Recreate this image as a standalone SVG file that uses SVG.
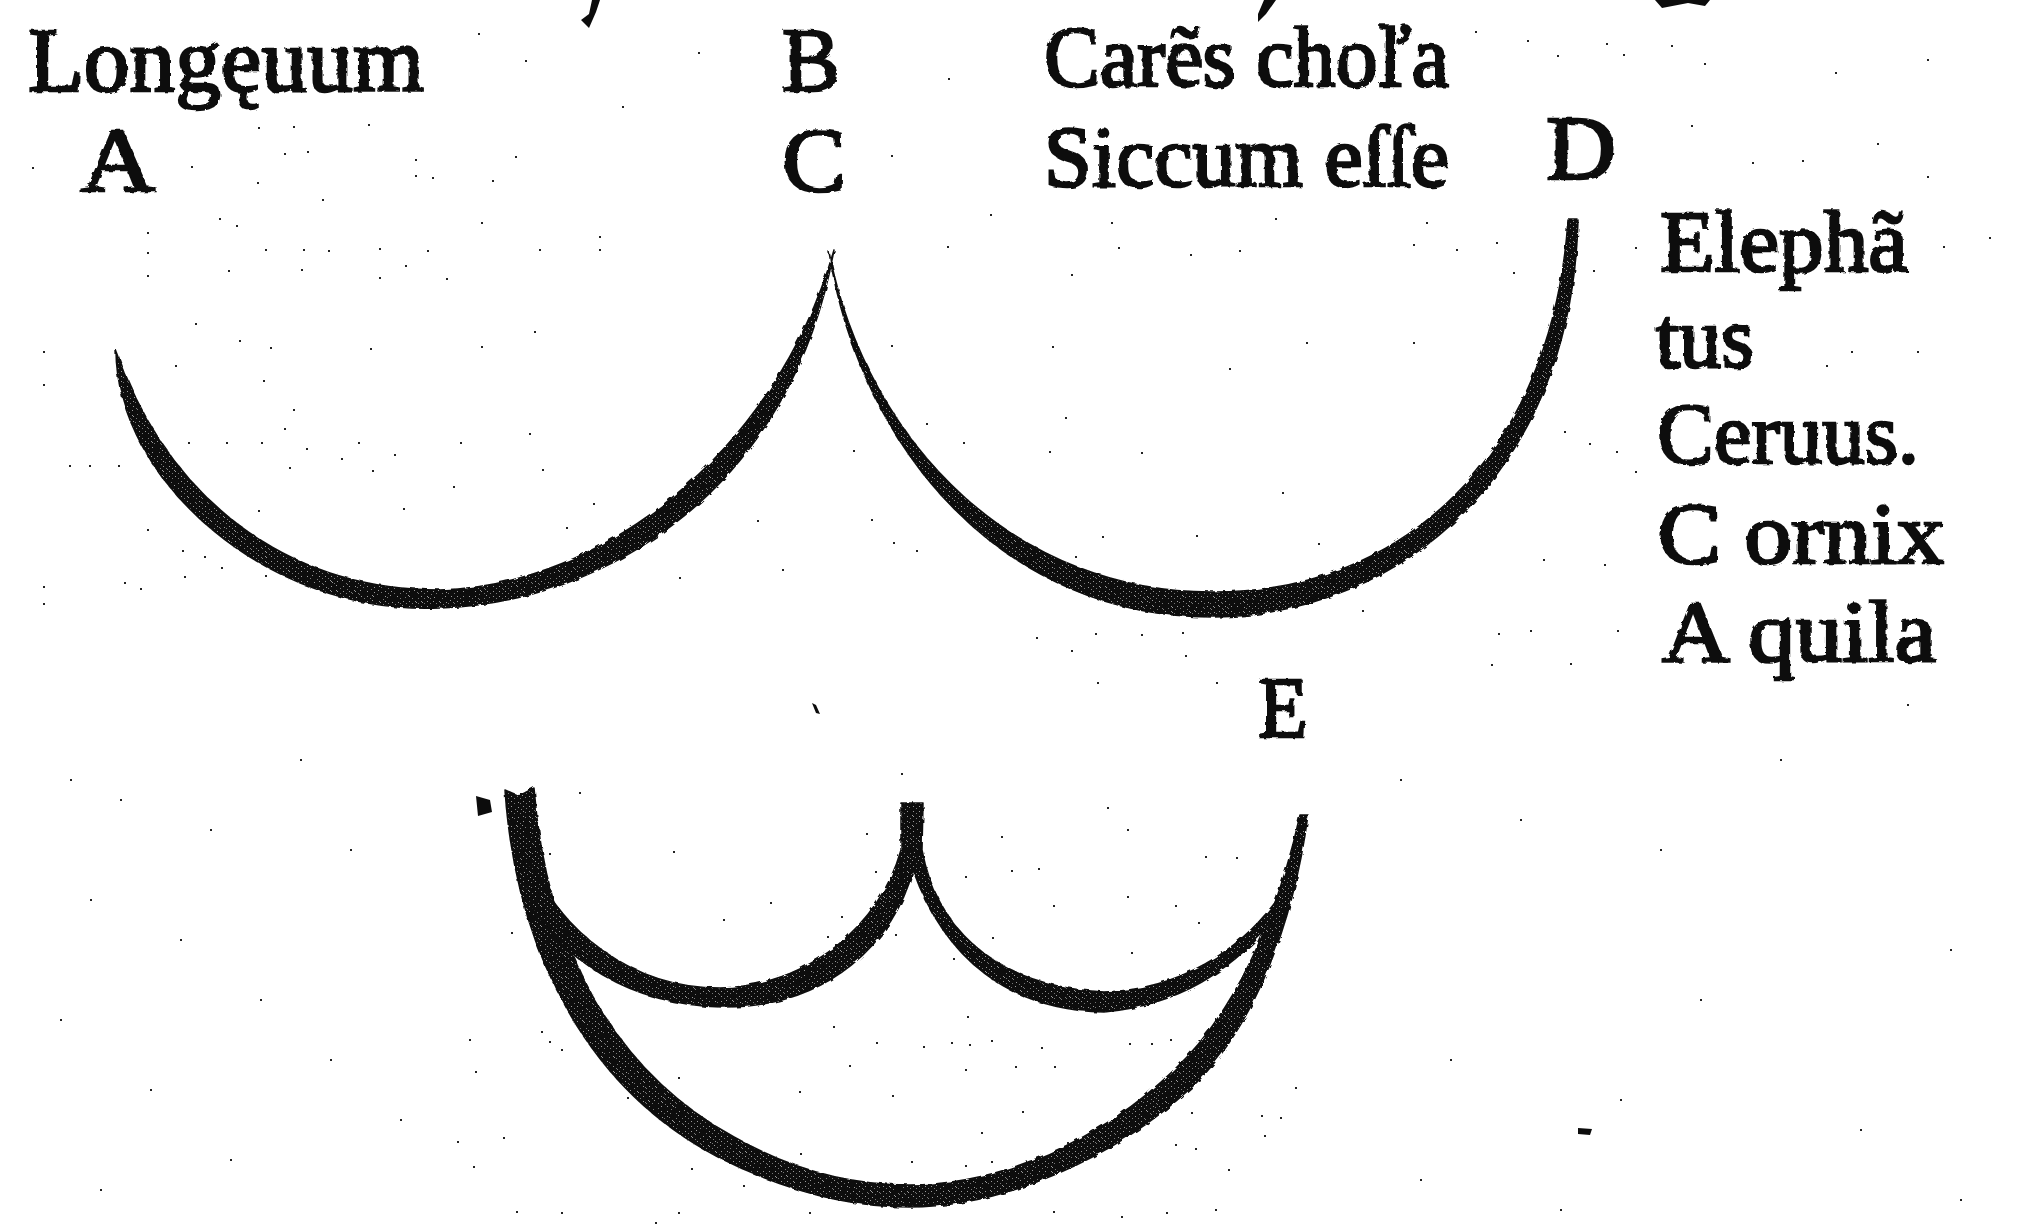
<svg xmlns="http://www.w3.org/2000/svg" width="2027" height="1226" viewBox="0 0 2027 1226">
<style>
text{font-family:"Liberation Serif","Times New Roman",serif;font-size:86px;fill:#0c0c0c;stroke:#0c0c0c;stroke-width:2.6px}
.big{font-size:92px}
.curve{fill:url(#grain);stroke:#0c0c0c;stroke-width:1.5;stroke-linejoin:round}
.specks{fill:none;stroke:#222;stroke-width:2;stroke-linecap:butt}
</style>
<defs>
<pattern id="grain" width="6" height="5" patternUnits="userSpaceOnUse">
<rect width="6" height="5" fill="#0c0c0c"/>
<rect x="1" y="1" width="1" height="1" fill="#9a9a9a"/>
<rect x="4" y="3" width="1" height="1" fill="#777"/>
</pattern>
<filter id="rough" x="-5%" y="-5%" width="110%" height="110%">
<feTurbulence type="fractalNoise" baseFrequency="0.14" numOctaves="2" seed="4" result="n"/>
<feDisplacementMap in="SourceGraphic" in2="n" scale="4"/>
</filter>
</defs>
<rect width="2027" height="1226" fill="#fff"/>
<g id="upper-figure" filter="url(#rough)">
<path id="arc-a-c" class="curve" d="M116,350 C116,480 268,616 440,608 C610,602 792,486 834,250 C775,455 600,586 440,590 C288,590 168,500 116,350Z"/>
<path id="arc-c-d" class="curve" d="M829,252 C860,450 1005,619 1215,617 C1402,614 1572,472 1578,220 L1568,220 C1552,458 1400,592 1215,592 C1020,594 868,448 829,252Z"/>
</g>
<g id="lower-figure" filter="url(#rough)">
<path id="outer-arc" class="curve" d="M505,790 L519,796 L534,788 C546,945 612,1070 734,1137 C785,1166 842,1185 909,1185 C1000,1185 1102,1140 1174,1070 C1230,1018 1276,925 1300,815 L1308,815 C1292,935 1248,1034 1192,1087 C1115,1158 1005,1207 909,1207 C840,1207 775,1186 718,1157 C590,1090 516,955 505,790Z"/>
<path id="inner-arcs" class="curve" d="M901,803 L923,803 L922,850 C935,920 985,985 1104,992 C1180,990 1240,950 1277,900 L1270,925 C1230,970 1180,1005 1104,1012 C1010,1010 945,960 913,870 C895,940 830,1008 722,1007 C630,1005 560,960 525,895 L530,860 C560,930 630,988 720,988 C810,985 880,925 901,850Z"/>
</g>
<g id="labels" filter="url(#rough)">
<text class="big" x="28" y="91" textLength="396" lengthAdjust="spacingAndGlyphs">Longęuum</text>
<text class="big" x="80" y="191" textLength="76" lengthAdjust="spacingAndGlyphs">A</text>
<text class="big" x="782" y="91" textLength="58" lengthAdjust="spacingAndGlyphs">B</text>
<text class="big" x="782" y="191" textLength="64" lengthAdjust="spacingAndGlyphs">C</text>
<text x="1044" y="86" textLength="405" lengthAdjust="spacingAndGlyphs">Carẽs choľa</text>
<text x="1044" y="186" textLength="405" lengthAdjust="spacingAndGlyphs">Siccum eſſe</text>
<text class="big" x="1546" y="179" textLength="70" lengthAdjust="spacingAndGlyphs">D</text>
<text x="1660" y="271" textLength="248" lengthAdjust="spacingAndGlyphs">Elephã</text>
<text x="1656" y="367" textLength="98" lengthAdjust="spacingAndGlyphs">tus</text>
<text x="1657" y="463" textLength="262" lengthAdjust="spacingAndGlyphs">Ceruus.</text>
<text x="1658" y="563" textLength="286" lengthAdjust="spacingAndGlyphs">C ornix</text>
<text x="1662" y="661" textLength="274" lengthAdjust="spacingAndGlyphs">A quila</text>
<text x="1258" y="737" textLength="50" lengthAdjust="spacingAndGlyphs">E</text>
</g>
<g id="scan-marks">
<path fill="#0c0c0c" d="M592,0 L600,0 L596,12 L589,28 L581,20 L589,14Z M1264,0 L1276,0 L1266,14 L1258,22 L1258,14Z M1655,0 L1710,0 L1705,6 L1688,3 L1662,8Z M476,796 L490,800 L492,812 L478,816Z M1578,1128 L1592,1129 L1590,1135 L1578,1134Z M812,703 L816,705 L820,714 L816,713Z"/>
<path class="specks" d="M478 34h2M525 61h2M698 53h2M948 79h2M622 107h2M368 125h2M258 128h2M293 127h2M307 152h2M284 154h2M415 160h2M515 157h2M415 176h2M432 178h2M492 181h2M257 183h2M191 167h2M32 168h2M322 200h2M219 219h2M236 226h2M481 223h2M147 233h2M147 253h2M147 276h2M265 250h2M303 250h2M328 251h2M379 249h2M427 251h2M539 250h2M599 237h2M599 250h2M228 271h2M301 270h2M405 266h2M379 278h2M446 279h2M195 324h2M534 332h2M239 341h2M270 348h2M370 349h2M481 347h2M175 366h2M263 381h2M293 410h2M284 429h2M529 434h2M460 443h2M226 443h2M188 443h2M261 443h2M306 449h2M358 443h2M394 455h2M341 459h2M289 468h2M372 471h2M542 470h2M453 487h2M593 504h2M403 509h2M258 511h2M566 528h2M757 521h2M871 520h2M853 451h2M891 346h2M947 247h2M990 215h2M891 156h2M963 443h2M926 424h2M893 543h2M916 551h2M782 570h2M679 578h2M147 530h2M182 551h2M204 557h2M221 568h2M184 577h2M265 576h2M43 587h2M124 583h2M140 589h2M43 604h2M43 352h2M43 385h2M89 466h2M69 466h2M118 466h2"/>
<path class="specks" d="M1475 32h2M1527 41h2M1606 44h2M1671 46h2M1557 56h2M1623 55h2M1704 64h2M1927 60h2M1835 73h2M1691 126h2M1877 144h2M1802 161h2M1927 177h2M1752 163h2M1111 223h2M1275 219h2M1426 223h2M1118 248h2M1190 255h2M1239 251h2M1413 245h2M1456 250h2M1496 243h2M1071 275h2M1513 273h2M1593 271h2M1635 248h2M1989 238h2M1943 247h2M1052 347h2M1306 343h2M1413 343h2M1229 369h2M1851 352h2M1917 352h2M1826 366h2M1065 418h2M1049 452h2M1141 453h2M1564 432h2M1589 444h2M1616 452h2M1635 472h2M1282 493h2M1102 537h2M1196 536h2M1318 544h2M1075 557h2M1543 560h2M1604 565h2M1362 611h2M1036 638h2M1095 634h2M1141 635h2M1182 633h2M1498 634h2M1530 631h2M1617 631h2M1071 651h2M1185 656h2M1491 665h2M1570 664h2M1097 683h2M1216 683h2M1907 705h2"/>
<path class="specks" d="M579 793h2M901 774h2M1107 808h2M1127 830h2M1001 837h2M866 834h2M673 852h2M549 854h2M1205 857h2M1236 858h2M875 872h2M965 877h2M1011 871h2M1038 869h2M1127 897h2M1053 906h2M1175 906h2M770 903h2M723 920h2M841 917h2M1198 923h2M511 933h2M895 935h2M827 937h2M992 938h2M1131 953h2M953 959h2M967 1017h2M833 1027h2M876 1043h2M951 1043h2M923 1047h2M969 1045h2M991 1041h2M1041 1048h2M1129 1044h2M1151 1044h2M1170 1040h2M541 1032h2M549 1042h2M561 1050h2M469 1040h2M475 1072h2M849 1066h2M965 1070h2M1015 1067h2M1054 1067h2M678 1078h2M1295 1088h2M799 1092h2M892 1096h2M627 1098h2M1022 1112h2M1191 1113h2M1261 1116h2M1280 1118h2M981 1133h2M1264 1136h2M503 1138h2M457 1142h2M1175 1145h2M1195 1149h2M1067 1143h2M800 1154h2M911 1162h2M965 1166h2M991 1162h2M1228 1170h2M691 1169h2M473 1167h2M743 1186h2M516 1212h2M561 1213h2M678 1213h2M809 1213h2M1053 1212h2M1166 1213h2M1215 1210h2M655 1223h2M1121 1217h2"/>
<path class="specks" d="M70 780h2M120 800h2M210 830h2M300 760h2M350 850h2M90 900h2M180 940h2M260 1000h2M60 1020h2M330 1060h2M150 1090h2M400 1120h2M230 1160h2M100 1190h2M1400 780h2M1520 820h2M1660 850h2M1780 760h2M1950 950h2M1700 1000h2M1450 1060h2M1620 1100h2M1860 1130h2M1420 1180h2M1960 1200h2M1560 1210h2"/>
</g>
</svg>
